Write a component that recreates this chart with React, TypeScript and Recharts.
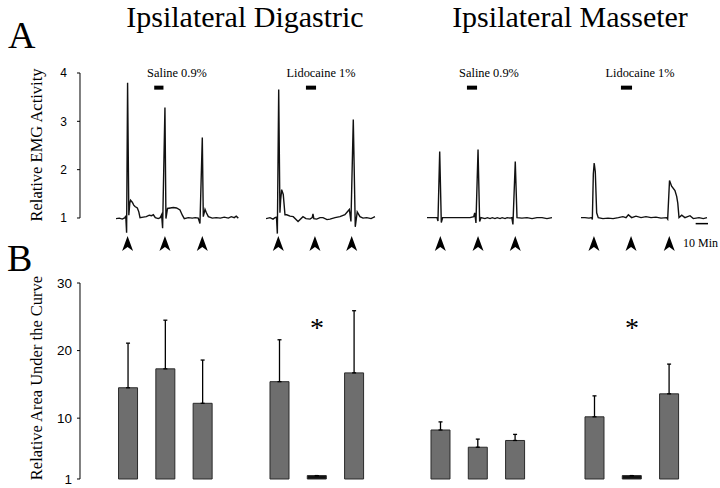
import React from 'react';
import {
  LineChart, Line, BarChart, Bar, ErrorBar, Cell,
  XAxis, YAxis, ReferenceLine, ReferenceDot,
} from 'recharts';

const SERIF = '"Liberation Serif", "Times New Roman", serif';
const SANS = '"Liberation Sans", Arial, sans-serif';

// ---- data ----
const EMG_TICKS = [1, 2, 3, 4];
const AUC_TICKS = [1, 10, 20, 30];
const STIMS = ['1st', '2nd', '3rd'];

// panel A traces: [minutes, relative EMG activity]
const DIG_SALINE: [number, number][] = [
  [0, 0.98], [2.7, 0.99], [5.1, 0.97], [7.3, 1.0], [7.9, 1.04], [8.6, 0.69], [9.4, 3.79],
  [10.4, 1.05], [11.2, 1.3], [11.8, 1.36], [13.2, 1.32], [14.4, 1.26], [15.4, 1.23], [17.3, 1.2],
  [18.5, 1.12], [19.5, 1.0], [22.1, 1.01], [24.6, 1.02], [27, 1.05], [28.9, 1.04], [30.3, 1.06],
  [31.9, 1.0], [34.3, 0.98], [35.9, 1.0], [37, 1.06], [37.8, 0.78], [39.7, 3.28], [40.5, 0.98],
  [41.8, 1.19], [44, 1.2], [46.5, 1.21], [49.1, 1.2], [51.9, 1.16], [53.8, 1.05], [55.4, 0.98],
  [58.6, 1.0], [61.9, 0.99], [64.3, 1.0], [66.7, 0.99], [68.1, 0.88], [70, 2.66], [70.8, 1.02],
  [72.2, 1.17], [73.3, 1.1], [74.9, 1.02], [78.1, 0.99], [81.3, 1.0], [84.6, 0.99], [87.8, 1.01],
  [91.1, 0.99], [93.5, 1.02], [95.9, 1.0], [97.5, 1.03], [99.2, 0.99],
];
const DIG_LIDO: [number, number][] = [
  [0, 0.98], [3.2, 1.0], [5.7, 0.97], [7.3, 1.0], [8.5, 1.01], [9.2, 0.67], [10.3, 3.65],
  [11.3, 1.1], [11.9, 1.37], [12.7, 1.58], [14, 1.48], [15.4, 1.06], [16.8, 1.06], [19.5, 1.03],
  [22.1, 1.02], [26, 0.92], [30, 1.02], [32.4, 0.98], [35.7, 0.97], [37.5, 1.0], [38.1, 1.08],
  [38.8, 0.98], [41.1, 0.97], [43.8, 1.0], [46.2, 1.0], [49.5, 0.96], [51.9, 0.97], [56, 1.0],
  [60, 1.02], [64, 1.06], [67.6, 1.17], [68.9, 0.92], [70.8, 3.03], [72.4, 0.81], [74, 1.12],
  [76.2, 1.02], [78.7, 0.99], [81.7, 1.0], [85.2, 0.98], [88.4, 1.02],
];
const MAS_SALINE: [number, number][] = [
  [0, 1.0], [4, 1.0], [8.1, 1.0], [8.9, 0.93], [10.3, 2.37], [11.6, 0.9], [12.7, 1.0],
  [18.7, 1.0], [26.8, 1.0], [34.9, 1.0], [37.9, 1.02], [38.7, 1.1], [39.7, 0.89], [41.4, 2.41],
  [42.7, 0.92], [43.8, 1.0], [47, 0.98], [49, 1.0], [51.1, 0.98], [53, 1.0], [55.1, 0.98],
  [57, 1.0], [59.2, 0.98], [61, 1.0], [63.3, 0.98], [65, 1.0], [67.4, 0.99], [68.8, 1.0],
  [69.7, 0.86], [71.6, 2.16], [73, 1.0], [77, 0.99], [81.1, 1.0], [85.2, 0.98], [89.2, 1.0],
  [93.3, 1.0], [97.3, 0.98], [101.4, 1.0],
];
const MAS_LIDO: [number, number][] = [
  [0, 1.0], [3.2, 1.0], [6.5, 0.99], [8.7, 1.0], [9.2, 0.96], [10, 1.9], [10.7, 2.13],
  [11.6, 1.95], [12.7, 1.1], [14, 1.0], [17.8, 0.98], [21.9, 0.99], [26, 0.98], [30.3, 1.0], [34, 1.02],
  [36.5, 1.0], [38.4, 1.06], [41.1, 1.0], [44.6, 1.03], [48.7, 1.0], [52.7, 1.02], [56.8, 1.0],
  [60.8, 1.01], [64.9, 0.99], [69.5, 1.0], [70.3, 0.97], [71.8, 1.77], [73.5, 1.65], [76.2, 1.56],
  [77.6, 1.44], [78.5, 1.3], [79.5, 1.0], [81.7, 1.05], [84.3, 1.0], [88.4, 1.04], [91.1, 0.98],
  [95.7, 1.0], [99.2, 0.98], [102.2, 1.0],
];

// stimulation times (arrowheads) and drug infusion windows, minutes
const DIG_SALINE_INJ = [9.4, 39.7, 70];
const DIG_LIDO_INJ = [10, 39.7, 69.5];
const MAS_SALINE_INJ = [10.8, 41.4, 71.6];
const MAS_LIDO_INJ = [10.5, 40.6, 71.6];
const DIG_SALINE_INF = [31, 38.5];
const DIG_LIDO_INF = [32.4, 40.6];
const MAS_SALINE_INF = [32.4, 40.6];
const MAS_LIDO_INF = [32.4, 41.4];

// panel B: relative area under the curve, mean and SD
const DIG_SALINE_AUC = [14.5, 17.3, 12.2];
const DIG_SALINE_SD = [6.6, 7.2, 6.4];
const DIG_LIDO_AUC = [15.4, 1.5, 16.7];
const DIG_LIDO_SD = [6.2, 0, 9.2];
const MAS_SALINE_AUC = [8.25, 5.7, 6.7];
const MAS_SALINE_SD = [1.2, 1.2, 0.9];
const MAS_LIDO_AUC = [10.2, 1.5, 13.6];
const MAS_LIDO_SD = [3.1, 0, 4.4];
const SIG_STIM = [null, '2nd', null, '2nd'];

const CONDITIONS = [
  { label: 'Saline 0.9%', trace: DIG_SALINE, inj: DIG_SALINE_INJ, inf: DIG_SALINE_INF, auc: DIG_SALINE_AUC, sd: DIG_SALINE_SD },
  { label: 'Lidocaine 1%', trace: DIG_LIDO, inj: DIG_LIDO_INJ, inf: DIG_LIDO_INF, auc: DIG_LIDO_AUC, sd: DIG_LIDO_SD },
  { label: 'Saline 0.9%', trace: MAS_SALINE, inj: MAS_SALINE_INJ, inf: MAS_SALINE_INF, auc: MAS_SALINE_AUC, sd: MAS_SALINE_SD },
  { label: 'Lidocaine 1%', trace: MAS_LIDO, inj: MAS_LIDO_INJ, inf: MAS_LIDO_INF, auc: MAS_LIDO_AUC, sd: MAS_LIDO_SD },
];

// ---- layout ----
const AXIS_X = 80;
const PX_PER_MIN = 1.233;
const SPAN = 104;
const TRACE_LEFT = [115.7, 266, 427, 581];
const LABEL_X = [177, 321, 489, 640];
const EMG_DOMAIN: [number, number] = [0.4, 4.2];
const EMG_PX = 48.33;
const EMG_TOP = 73; // y of value 4
const ARROW_Y = 0.62;
const INF_Y = 3.69;
const SCALE_Y = 0.876;
const BAR_MID = [165.5, 317, 478.3, 632];
const SLOT = 37.3;
const AUC_TOP = 283;
const AUC_BOTTOM = 479;
const AUC_PAD = 10;

const Arrowhead = (p: any) => (
  <path
    d={`M${p.cx},${p.cy} L${p.cx + 5.5},${p.cy + 15} L${p.cx},${p.cy + 11} L${p.cx - 5.5},${p.cy + 15} Z`}
    fill="#000"
  />
);

const Asterisk = (p: any) => (
  <text x={p.cx} y={p.cy + 13} textAnchor="middle" fontSize={28} fontFamily={SERIF} fill="#000">*</text>
);

function TraceChart({ idx }: { idx: number }) {
  const c = CONDITIONS[idx];
  const data = c.trace.map(([t, v]) => ({ t, v }));
  const plotTop = EMG_TOP - (EMG_DOMAIN[1] - 4) * EMG_PX;
  const plotH = (EMG_DOMAIN[1] - EMG_DOMAIN[0]) * EMG_PX;
  return (
    <div style={{ position: 'absolute', left: TRACE_LEFT[idx], top: plotTop }}>
      <LineChart width={SPAN * PX_PER_MIN} height={plotH + 10} data={data}
        margin={{ top: 0, right: 0, bottom: 10, left: 0 }}>
        <XAxis type="number" dataKey="t" domain={[0, SPAN]} hide />
        <YAxis type="number" domain={EMG_DOMAIN} hide />
        <ReferenceLine segment={[{ x: c.inf[0], y: INF_Y }, { x: c.inf[1], y: INF_Y }]}
          stroke="#000" strokeWidth={4} />
        {c.inj.map((t, i) => (
          <ReferenceDot key={i} x={t} y={ARROW_Y} r={0} shape={Arrowhead} />
        ))}
        {idx === 3 && (
          <ReferenceLine segment={[{ x: 93, y: SCALE_Y }, { x: 103, y: SCALE_Y }]}
            stroke="#000" strokeWidth={1.5} />
        )}
        <Line type="linear" dataKey="v" stroke="#111" strokeWidth={1.4}
          dot={false} isAnimationActive={false} />
      </LineChart>
    </div>
  );
}

function EmgAxis() {
  const data = EMG_TICKS.map((v) => ({ v }));
  return (
    <div style={{ position: 'absolute', left: 0, top: EMG_TOP - 10 }}>
      <LineChart width={AXIS_X + 4} height={3 * EMG_PX + 20} data={data}
        margin={{ top: 10, right: 4, bottom: 10, left: 0 }}>
        <XAxis dataKey="v" hide />
        <YAxis type="number" domain={[1, 4]} ticks={EMG_TICKS} interval={0} width={AXIS_X}
          tickSize={3} tickMargin={10} axisLine={{ stroke: '#000', strokeWidth: 1 }}
          tickLine={{ stroke: '#000' }} tick={{ fill: '#000', fontSize: 12, fontFamily: SANS }} />
        <Line dataKey="v" stroke="none" dot={false} isAnimationActive={false} />
      </LineChart>
    </div>
  );
}

function AucChart({ idx }: { idx: number }) {
  const c = CONDITIONS[idx];
  const data = STIMS.map((s, j) => ({ stim: s, auc: c.auc[j], err: [0, c.sd[j]] }));
  const first = idx === 0;
  const yw = 40;
  const plotLeft = BAR_MID[idx] - 1.5 * SLOT;
  const pad = first ? plotLeft - AXIS_X : 0;
  const left = first ? AXIS_X - yw : plotLeft;
  const width = (first ? yw + pad : 0) + 3 * SLOT;
  const sig = SIG_STIM[idx];
  return (
    <div style={{ position: 'absolute', left, top: AUC_TOP - AUC_PAD }}>
      <BarChart width={width} height={AUC_BOTTOM - AUC_TOP + 2 * AUC_PAD} data={data}
        margin={{ top: AUC_PAD, right: 0, bottom: AUC_PAD, left: 0 }}>
        <XAxis dataKey="stim" hide padding={{ left: pad, right: 0 }} />
        <YAxis type="number" domain={[1, 30]} ticks={AUC_TICKS} interval={0} hide={!first}
          width={yw} tickSize={3} tickMargin={5} axisLine={{ stroke: '#000' }}
          tickLine={{ stroke: '#000' }} tick={{ fill: '#000', fontSize: 13.5, fontFamily: SANS }} />
        <Bar dataKey="auc" barSize={19} fill="#6e6e6e" stroke="#2a2a2a" strokeWidth={1}
          isAnimationActive={false}>
          {data.map((d, j) => (
            <Cell key={j} fill={d.auc < 2 ? '#111' : '#6e6e6e'} />
          ))}
          <ErrorBar dataKey="err" direction="y" width={2} stroke="#000" strokeWidth={1.3} />
        </Bar>
        {sig && <ReferenceDot x={sig} y={24} r={0} shape={Asterisk} />}
      </BarChart>
    </div>
  );
}

export default function App() {
  return (
    <div style={{ position: 'fixed', left: 0, top: 0, width: 720, height: 488, background: '#fff', overflow: 'hidden' }}>
      <EmgAxis />
      {CONDITIONS.map((_, i) => <TraceChart key={'t' + i} idx={i} />)}
      {CONDITIONS.map((_, i) => <AucChart key={'b' + i} idx={i} />)}
      <svg width={720} height={488} style={{ position: 'absolute', left: 0, top: 0, pointerEvents: 'none' }}
        fontFamily={SERIF} fill="#000">
        <text x={8} y={48} fontSize={38}>A</text>
        <text x={7} y={271} fontSize={38}>B</text>
        <text x={245} y={27} fontSize={30} textAnchor="middle">Ipsilateral Digastric</text>
        <text x={570} y={27} fontSize={30} textAnchor="middle">Ipsilateral Masseter</text>
        <text transform="translate(42,145) rotate(-90)" fontSize={16.5} textAnchor="middle">Relative EMG Activity</text>
        <text transform="translate(42,378) rotate(-90)" fontSize={16.5} textAnchor="middle">Relative Area Under the Curve</text>
        {CONDITIONS.map((c, i) => (
          <text key={i} x={LABEL_X[i]} y={77} fontSize={12.4} textAnchor="middle">{c.label}</text>
        ))}
        <text x={683} y={247} fontSize={12}>10 Min</text>
      </svg>
    </div>
  );
}
